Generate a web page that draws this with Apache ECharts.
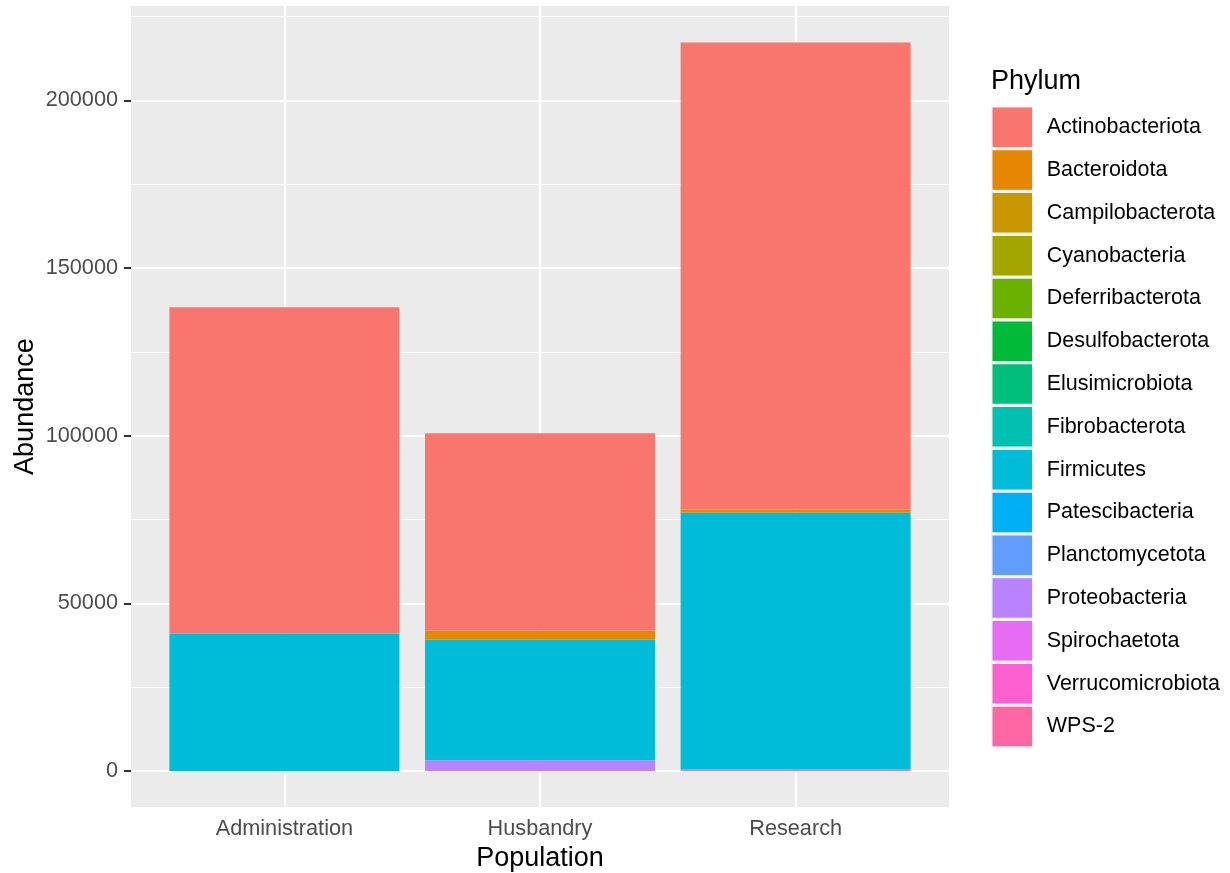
<!DOCTYPE html>
<html>
<head>
<meta charset="utf-8">
<script src="https://cdn.jsdelivr.net/npm/echarts@6/dist/echarts.min.js"></script>
<style>html,body{margin:0;padding:0;background:#fff}#c{width:1230px;height:873px}</style>
</head>
<body>
<div id="c"></div>
<script>
const categories = ['Administration', 'Husbandry', 'Research'];
const phyla = ['Actinobacteriota','Bacteroidota','Campilobacterota','Cyanobacteria','Deferribacterota','Desulfobacterota','Elusimicrobiota','Fibrobacterota','Firmicutes','Patescibacteria','Planctomycetota','Proteobacteria','Spirochaetota','Verrucomicrobiota','WPS-2'];
const colors = ['#F8766D','#E58700','#C99800','#A3A500','#6BB100','#00BA38','#00BF7D','#00C0AF','#00BCD8','#00B0F6','#619CFF','#B983FF','#E76BF3','#FD61D1','#FF67A4'];
// values per phylum: [Administration, Husbandry, Research]
const Actinobacteriota = [97360, 58880, 139360];
const Bacteroidota = [0, 2685, 895];
const Campilobacterota = [0, 0, 0];
const Cyanobacteria = [0, 0, 0];
const Deferribacterota = [0, 0, 0];
const Desulfobacterota = [0, 0, 0];
const Elusimicrobiota = [0, 0, 0];
const Fibrobacterota = [0, 0, 0];
const Firmicutes = [40956, 35976, 76550];
const Patescibacteria = [0, 0, 0];
const Planctomycetota = [0, 0, 0];
const Proteobacteria = [0, 3190, 500];
const Spirochaetota = [0, 0, 0];
const Verrucomicrobiota = [0, 0, 0];
const WPS2 = [0, 0, 0];
const values = [Actinobacteriota,Bacteroidota,Campilobacterota,Cyanobacteria,Deferribacterota,Desulfobacterota,Elusimicrobiota,Fibrobacterota,Firmicutes,Patescibacteria,Planctomycetota,Proteobacteria,Spirochaetota,Verrucomicrobiota,WPS2];
const yTicks = [0, 50000, 100000, 150000, 200000];
const yMinor = [25000, 75000, 125000, 175000, 225000];
const yMin = -10865, yMax = 228165;

const FONT = '"Liberation Sans", Arial, Helvetica, sans-serif';
const catPos = categories.map((c, i) => i + 1);

const series = [];
// gridlines
series.push({
  type: 'line', data: [], silent: true, z: 1,
  markLine: {
    z: 1, silent: true, symbol: 'none', label: {show: false}, animation: false,
    data: [
      ...yMinor.map(v => ({yAxis: v, lineStyle: {color: '#fff', width: 1.1, type: 'solid'}})),
      ...yTicks.map(v => ({yAxis: v, lineStyle: {color: '#fff', width: 2.2, type: 'solid'}})),
      ...catPos.map(v => ({xAxis: v, lineStyle: {color: '#fff', width: 2.2, type: 'solid'}}))
    ]
  }
});
// bars: bottom of stack first (reverse of legend order); value column first so it is the stacked dimension
for (let k = phyla.length - 1; k >= 0; k--) {
  series.push({
    name: phyla[k], type: 'bar', stack: 'total', z: 3,
    barWidth: 230,
    itemStyle: {color: colors[k]},
    encode: {x: 1, y: 0},
    data: values[k].map((v, i) => [v, catPos[i]])
  });
}

const chart = echarts.init(document.getElementById('c'), null, {renderer: 'canvas'});
chart.setOption({
  animation: false,
  backgroundColor: '#ffffff',
  grid: {left: 131, right: 281, top: 6, bottom: 65.7, show: true, backgroundColor: '#EBEBEB', borderWidth: 0,
         containLabel: false, outerBoundsMode: 'none'},
  xAxis: {
    type: 'value', min: 0.4, max: 3.6,
    name: 'Population', nameLocation: 'middle', nameGap: 38,
    nameTextStyle: {fontFamily: FONT, fontSize: 27, color: '#000'},
    axisLine: {show: false},
    splitLine: {show: false},
    axisTick: {show: true, customValues: catPos, length: 7, lineStyle: {color: '#333333', width: 2}},
    axisLabel: {customValues: catPos, margin: 11, fontFamily: FONT, fontSize: 21.7, color: '#4D4D4D',
      formatter: v => categories[Math.round(v) - 1] || ''}
  },
  yAxis: {
    type: 'value', min: yMin, max: yMax,
    axisLine: {show: false},
    splitLine: {show: false},
    axisTick: {show: true, customValues: yTicks, length: 7, lineStyle: {color: '#333333', width: 2}},
    axisLabel: {customValues: yTicks, margin: 13, fontFamily: FONT, fontSize: 21.7, color: '#4D4D4D',
      formatter: v => String(v)}
  },
  legend: {
    orient: 'vertical', left: 991, top: 106, padding: 0,
    data: phyla, icon: 'rect', itemWidth: 41, itemHeight: 41, itemGap: 0.3,
    selectedMode: false,
    itemStyle: {borderColor: '#F2F2F2', borderWidth: 1.5},
    textStyle: {fontFamily: FONT, fontSize: 21.5, color: '#000', padding: [0, 0, 0, 9]}
  },
  graphic: [{
    type: 'text', left: 991, top: 68,
    style: {text: 'Phylum', fontFamily: FONT, fontSize: 27, fill: '#000'}
  }, {
    type: 'text', x: 26, y: 406.6, rotation: Math.PI / 2,
    style: {text: 'Abundance', fontFamily: FONT, fontSize: 27, fill: '#000', align: 'center', verticalAlign: 'middle'}
  }],
  series: series
});
</script>
</body>
</html>
